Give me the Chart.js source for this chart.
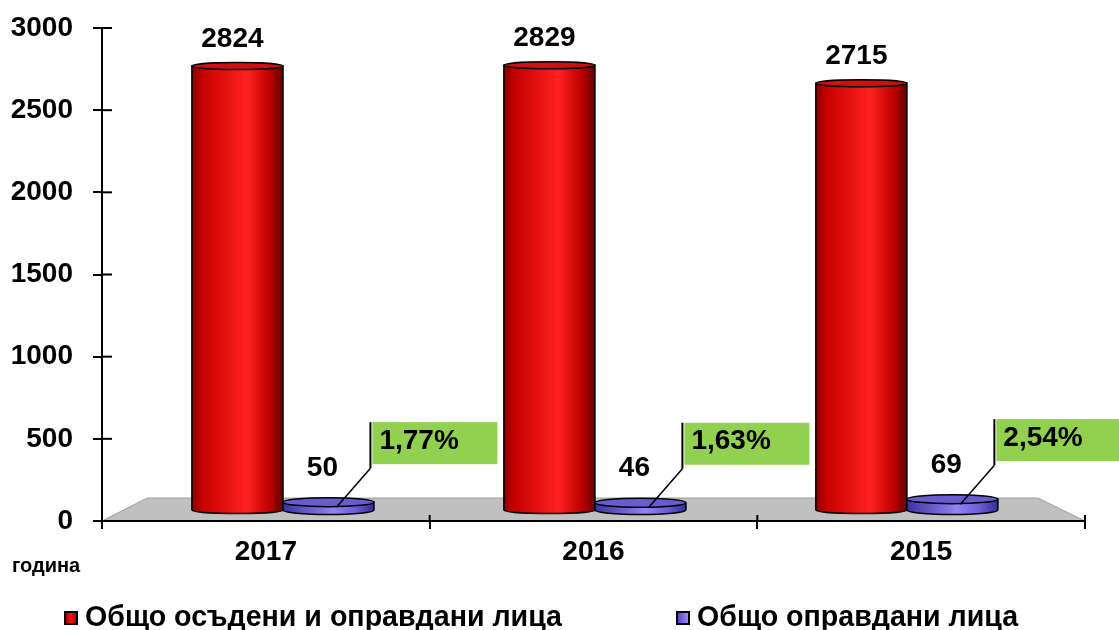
<!DOCTYPE html>
<html>
<head>
<meta charset="utf-8">
<script src="https://cdn.jsdelivr.net/npm/chart.js@4.4.1/dist/chart.umd.min.js"></script>
<style>
  html, body { margin: 0; padding: 0; background: #fff; }
  #wrap { width: 1119px; height: 630px; }
</style>
</head>
<body>
<div id="wrap"><canvas id="c"></canvas></div>
<script>
const years = ['2017', '2016', '2015'];
const convicted = [2824, 2829, 2715];
const acquitted = [50, 46, 69];
const acquittedShare = ['1,77%', '1,63%', '2,54%'];
const seriesNames = ['Общо осъдени и оправдани лица', 'Общо оправдани лица'];
const yMax = 3000;
const yStep = 500;

const FONT = 'Liberation Sans';
const GREEN = '#92d050';

// look of each cylinder series
const looks = [
    {
        side: [[0, '#8c0000'], [0.12, '#c80000'], [0.6, '#ff2222'], [0.85, '#c00000'], [1, '#640000']],
        top: '#d01010', ry: 3.5, legend: [[0, '#a00000'], [0.5, '#ff1010'], [1, '#a00000']]
    },
    {
        side: [[0, '#3c32a0'], [0.55, '#9282f2'], [0.8, '#6c5cd8'], [1, '#342c90']],
        top: '#6a5cd0', ry: 4.5, legend: [[0, '#5040c0'], [1, '#a090ff']]
    }
];

function hGrad(ctx, x0, x1, stops) {
    const g = ctx.createLinearGradient(x0, 0, x1, 0);
    stops.forEach(([p, c]) => g.addColorStop(p, c));
    return g;
}

function line(ctx, x0, y0, x1, y1) {
    ctx.beginPath();
    ctx.moveTo(x0, y0);
    ctx.lineTo(x1, y1);
    ctx.stroke();
}

const cylinders = {
    id: 'cylinders',
    beforeDraw(chart) {
        // grey floor under the bars
        const { ctx, chartArea: a } = chart;
        ctx.save();
        ctx.beginPath();
        ctx.moveTo(a.left, a.bottom);
        ctx.lineTo(a.left + 45, a.bottom - 23);
        ctx.lineTo(a.right - 47, a.bottom - 23);
        ctx.lineTo(a.right, a.bottom);
        ctx.closePath();
        ctx.fillStyle = '#c0c0c0';
        ctx.fill();
        ctx.strokeStyle = '#a0a0a0';
        ctx.lineWidth = 1;
        ctx.stroke();
        ctx.restore();
    },
    afterDatasetsDraw(chart) {
        const ctx = chart.ctx;
        chart.data.datasets.forEach((ds, di) => {
            const look = looks[di];
            chart.getDatasetMeta(di).data.forEach(bar => {
                const rx = bar.width / 2, ry = look.ry;
                const l = bar.x - rx, r = bar.x + rx;
                ctx.save();
                ctx.beginPath();
                ctx.moveTo(l, bar.y);
                ctx.lineTo(l, bar.base);
                ctx.ellipse(bar.x, bar.base, rx, ry, 0, Math.PI, 0, true);
                ctx.lineTo(r, bar.y);
                ctx.closePath();
                ctx.fillStyle = hGrad(ctx, l, r, look.side);
                ctx.fill();
                ctx.strokeStyle = '#000';
                ctx.lineWidth = 1.5;
                ctx.stroke();
                ctx.beginPath();
                ctx.ellipse(bar.x, bar.y, rx, ry, 0, 0, Math.PI * 2);
                ctx.fillStyle = look.top;
                ctx.fill();
                ctx.stroke();
                ctx.restore();
            });
        });
    },
    afterDraw(chart) {
        const { ctx, chartArea: a, scales } = chart;
        ctx.save();
        ctx.strokeStyle = '#000';
        ctx.lineWidth = 2;
        // tick marks crossing the axes
        scales.y.ticks.forEach((t, i) => {
            const py = scales.y.getPixelForTick(i);
            line(ctx, a.left, py, a.left + 10, py);
        });
        for (let k = 0; k <= years.length; k++) {
            const px = scales.x.getPixelForValue(k - 0.5);
            line(ctx, px, a.bottom - 6, px, a.bottom);
        }

        ctx.fillStyle = '#000';
        ctx.font = 'bold 28px "' + FONT + '"';
        ctx.textAlign = 'center';
        ctx.textBaseline = 'middle';
        chart.getDatasetMeta(0).data.forEach((bar, i) => {
            ctx.fillText(String(convicted[i]), bar.x - 5, bar.y - 27);
        });
        chart.getDatasetMeta(1).data.forEach((bar, i) => {
            ctx.fillText(String(acquitted[i]), bar.x - 6, bar.y - 34);
            // share callout
            const bx = bar.x + 44, by = bar.y - 80, bw = 125, bh = 42;
            ctx.fillStyle = GREEN;
            ctx.fillRect(bx, by, bw, bh);
            ctx.lineWidth = 2;
            line(ctx, bx - 2, by, bx - 2, by + bh + 4);
            ctx.lineWidth = 1.5;
            line(ctx, bx - 2, by + bh + 4, bar.x + 8, bar.y + 5);
            ctx.fillStyle = '#000';
            ctx.textAlign = 'left';
            ctx.fillText(acquittedShare[i], bx + 7, by + bh / 2 - 2);
            ctx.textAlign = 'center';
        });

        ctx.font = 'bold 20px "' + FONT + '"';
        ctx.textAlign = 'left';
        ctx.fillText('година', 12, a.bottom + 45);

        // legend
        ctx.font = 'bold 28.6px "' + FONT + '"';
        let lx = 65;
        const ly = 618;
        seriesNames.forEach((name, i) => {
            ctx.fillStyle = hGrad(ctx, lx, lx + 12, looks[i].legend);
            ctx.fillRect(lx, ly - 6, 12, 12);
            ctx.lineWidth = 2;
            ctx.strokeRect(lx, ly - 6, 12, 12);
            ctx.fillStyle = '#000';
            ctx.fillText(name, lx + 20, ly);
            lx += 20 + ctx.measureText(name).width + 115;
        });
        ctx.restore();
    }
};

new Chart(document.getElementById('c'), {
    type: 'bar',
    data: {
        labels: years,
        datasets: [
            {
                label: seriesNames[0],
                data: years.map((y, i) => ({ x: i, y: convicted[i] })),
                backgroundColor: '#e00000',
                xAxisID: 'xBar',
                yAxisID: 'yBar'
            },
            {
                label: seriesNames[1],
                data: years.map((y, i) => ({ x: i, y: acquitted[i] })),
                backgroundColor: '#7a68e0',
                xAxisID: 'xBar',
                yAxisID: 'yBar'
            }
        ]
    },
    options: {
        responsive: true,
        maintainAspectRatio: false,
        animation: false,
        barThickness: 91,
        layout: { padding: { left: 0, right: 34, top: 28, bottom: 64 } },
        plugins: {
            legend: { display: false },
            tooltip: { enabled: false }
        },
        scales: {
            x: {
                type: 'category',
                offset: true,
                grid: { offset: true, drawOnChartArea: false, color: '#000', lineWidth: 2, tickLength: 8 },
                border: { color: '#000', width: 2 },
                ticks: { color: '#000', padding: 6, font: { family: FONT, size: 28, weight: 'bold' } },
                afterFit: s => { s.height = 45; }
            },
            y: {
                type: 'linear',
                min: 0,
                max: yMax,
                ticks: {
                    stepSize: yStep, color: '#000', padding: 20,
                    font: { family: FONT, size: 28, weight: 'bold' },
                    callback: v => String(v)
                },
                grid: { drawOnChartArea: false, color: '#000', lineWidth: 2, tickLength: 9 },
                border: { color: '#000', width: 2 },
                afterFit: s => { s.width = 102; s.paddingTop = 0; s.paddingBottom = 0; }
            },
            xBar: { type: 'linear', display: false, offset: false, min: -0.58, max: 2.571 },
            yBar: { type: 'linear', display: false, min: -70, max: 3066 }
        }
    },
    plugins: [cylinders]
});
</script>
</body>
</html>
